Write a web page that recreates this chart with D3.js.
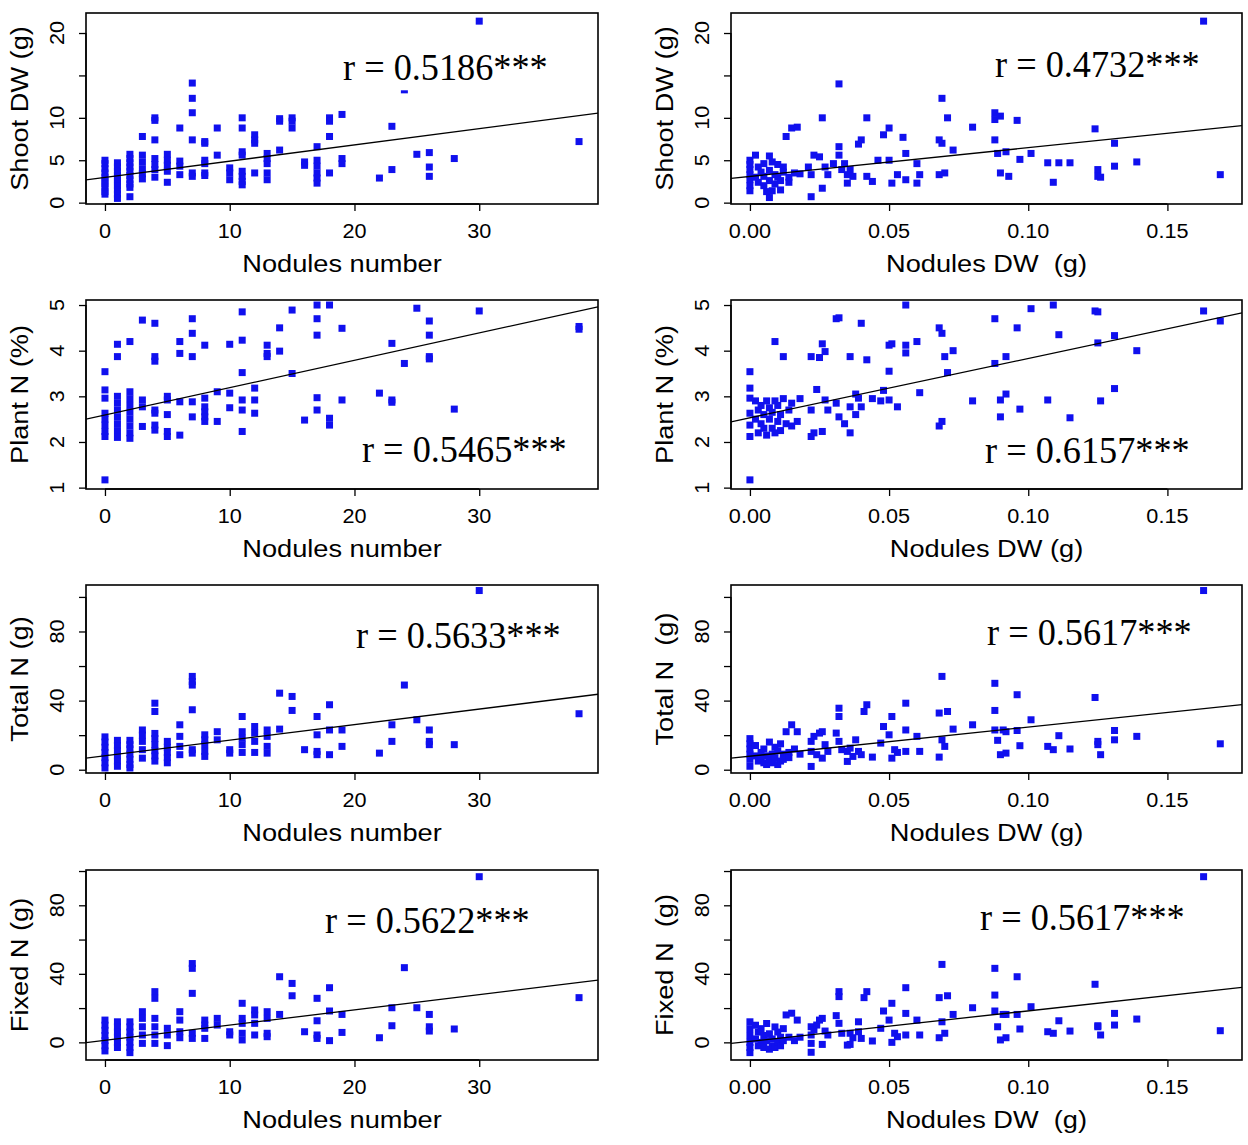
<!DOCTYPE html>
<html>
<head>
<meta charset="utf-8">
<script src="https://cdn.jsdelivr.net/npm/d3@7"></script>
<style>
  html, body { margin: 0; padding: 0; background: #fff; }
  svg text { white-space: pre; }
</style>
</head>
<body>
<svg id="chart" width="1248" height="1145"></svg>
<script>
// ---------------- DATA ----------------
// Left column: x = nodules number, values grouped by x
const shootByNum = [
  [0,[5.0,4.6,4.0,3.5,3.0,2.6,2.2,1.8,1.3,1.0]],
  [1,[4.7,4.2,3.7,3.2,2.8,2.4,2.0,1.5,1.0,0.5]],
  [2,[5.7,5.2,4.7,4.2,3.7,3.2,2.7,2.2,1.8,0.7]],
  [3,[7.8,5.6,4.8,4.0,3.4,2.8]],
  [4,[10.0,9.7,7.4,5.2,4.5,3.9,3.0]],
  [5,[5.7,5.0,4.4,3.7,2.4]],
  [6,[8.8,4.9,4.3,3.3]],
  [7,[14.1,12.3,10.6,7.4,3.5,3.1]],
  [8,[7.2,7.0,5.0,4.6,3.5,3.2]],
  [9,[8.8,5.6]],
  [10,[4.1,3.5,2.7]],
  [11,[10.0,8.8,6.0,5.6,3.7,3.1,2.5,2.1]],
  [12,[8.0,7.4,7.0,3.5]],
  [13,[5.8,5.2,4.6,3.5,2.7]],
  [14,[9.9,9.6,6.2]],
  [15,[10.0,9.6,8.8]],
  [16,[4.8,4.4]],
  [17,[6.6,5.0,4.3,3.5,2.9,2.3]],
  [18,[10.0,9.6,7.8,3.5]],
  [19,[10.4,5.2,4.6]],
  [22,[2.9]],
  [23,[9.0,3.9]],
  [24,[13.3]],
  [25,[5.7]],
  [26,[5.9,4.2,3.1]],
  [28,[5.2]],
  [30,[21.4]],
  [38,[7.2]]
];
const plantNByNum = [
  [0,[3.54,3.14,2.96,2.63,2.5,2.37,2.23,2.12,1.17]],
  [1,[4.14,3.87,3.0,2.85,2.7,2.55,2.4,2.25,2.1]],
  [2,[4.2,3.1,2.95,2.8,2.65,2.5,2.35,2.2,2.08]],
  [3,[4.67,2.92,2.77,2.34]],
  [4,[4.6,3.87,3.77,2.7,2.63,2.37,2.26]],
  [5,[3.0,2.92,2.6,2.23,2.12]],
  [6,[4.2,3.94,2.88,2.15]],
  [7,[4.7,4.38,3.87,2.88,2.55]],
  [8,[4.12,2.96,2.77,2.66,2.55,2.45]],
  [9,[3.1,2.45]],
  [10,[4.14,3.07,2.75]],
  [11,[4.85,4.23,3.52,2.92,2.7,2.23]],
  [12,[3.18,2.92,2.63]],
  [13,[4.12,3.94,3.87]],
  [14,[4.5,3.99]],
  [15,[4.89,3.5]],
  [16,[2.48]],
  [17,[5.0,4.7,4.34,2.97,2.7]],
  [18,[5.0,2.52,2.37]],
  [19,[4.49,2.92]],
  [22,[3.07]],
  [23,[4.16,2.92,2.87]],
  [24,[3.72]],
  [25,[4.93]],
  [26,[4.65,4.34,3.87,3.82]],
  [28,[2.72]],
  [30,[4.87]],
  [38,[4.53,4.47]]
];
const totalNByNum = [
  [0,[19,16,13,10,7,4,1]],
  [1,[17,14,11,8,5,2]],
  [2,[17,14.5,12,9,6,3,1]],
  [3,[23,20,16.4,11.6,6.7]],
  [4,[38.5,33.7,21,18,14.5,11,8,5]],
  [5,[16.4,13,10,7,4]],
  [6,[26,19.3,13.5,8.7]],
  [7,[54,51,49,34.7,11.6,9.6]],
  [8,[20.2,17.3,14.5,10.6,7.7]],
  [9,[22,17.3]],
  [10,[11.6,9.6]],
  [11,[30.8,22,18.3,14.5,10]],
  [12,[25,21.2,16.4,10]],
  [13,[23,19.3,13.5,9.6]],
  [14,[44.3,23.5]],
  [15,[42.4,34.3]],
  [16,[11.6]],
  [17,[30.8,20.2,10.6,8.7]],
  [18,[37.6,23,8.7]],
  [19,[23,13.5]],
  [22,[9.6]],
  [23,[26,16.4]],
  [24,[49]],
  [25,[28.9]],
  [26,[23,16.4,14.5]],
  [28,[14.5]],
  [30,[103.7]],
  [38,[32.4]]
];
const fixedNByNum = [
  [0,[13,10,7,4,1,-2,-5]],
  [1,[12,9,6,3,0,-3]],
  [2,[12,9,6,3,0,-3,-6]],
  [3,[17.9,14,9.1,4.3,-0.6]],
  [4,[29.6,25.7,14,9.1,4.3,-0.6]],
  [5,[8.2,4.3,-1.9]],
  [6,[17.9,13,6.2,2.7]],
  [7,[46,43.2,28.6,5.3,2.3]],
  [8,[13,10.1,8.2,2.3]],
  [9,[14,10.1]],
  [10,[6.2,4.3]],
  [11,[22.8,14,11.1,5.3,1.4]],
  [12,[18.9,16,11.1,4.3]],
  [13,[17.9,14,5.3,3.3]],
  [14,[38.3,16.3]],
  [15,[34.4,27.2]],
  [16,[6.2]],
  [17,[25.7,12.6,4.3,2.3]],
  [18,[31.9,18.3,1]],
  [19,[16.3,5.8]],
  [22,[2.7]],
  [23,[20.2,9.7]],
  [24,[43.6]],
  [25,[20.2]],
  [26,[16.3,9.1,6.6]],
  [28,[7.8]],
  [30,[96.7]],
  [38,[26.1]]
];

// Right column: [nodules DW, value]
const shootByDW = [
  [0,5.0],[0,4.5],[0,3.9],[0,3.3],[0,2.7],[0,2.0],[0,1.4],
  [0.002,5.6],[0.002,3.0],[0.003,4.2],[0.003,2.4],[0.004,3.6],[0.005,4.6],[0.005,3.1],[0.005,2.0],
  [0.006,1.3],[0.007,3.8],[0.007,2.6],[0.007,0.6],[0.007,5.5],[0.008,4.8],[0.008,1.4],[0.009,3.3],
  [0.009,2.2],[0.010,4.5],[0.010,3.0],[0.011,2.6],[0.011,1.5],[0.012,4.2],[0.012,3.6],[0.013,7.8],
  [0.014,3.0],[0.014,2.4],[0.015,8.8],[0.016,3.5],[0.017,8.9],[0.018,3.4],
  [0.021,4.2],[0.022,0.7],[0.022,3.3],[0.023,5.6],[0.025,5.4],[0.026,10.0],[0.026,1.7],[0.027,4.2],
  [0.028,3.3],[0.030,4.6],[0.032,6.6],[0.032,5.6],[0.032,14.0],[0.033,3.9],[0.034,4.6],[0.035,2.3],
  [0.035,3.3],[0.036,3.9],[0.037,3.1],[0.039,6.9],[0.040,7.4],[0.042,10.0],[0.042,3.1],[0.044,2.5],
  [0.046,5.0],[0.048,8.0],[0.050,8.8],[0.050,5.0],[0.051,2.3],[0.053,3.3],[0.055,7.7],[0.056,5.8],
  [0.056,2.7],[0.060,4.6],[0.060,2.3],[0.061,3.3],[0.068,7.4],[0.068,3.3],[0.069,12.3],[0.069,7.0],
  [0.070,3.5],[0.071,10.0],[0.073,6.2],[0.080,8.9],[0.088,10.6],[0.088,9.8],[0.088,7.4],[0.090,10.2],
  [0.090,3.5],[0.089,5.8],[0.092,6.0],[0.093,3.1],[0.096,9.7],[0.097,5.1],[0.101,5.8],[0.107,4.7],
  [0.109,2.4],[0.111,4.7],[0.115,4.7],[0.124,8.7],[0.125,3.9],[0.125,3.1],[0.126,3.0],[0.131,7.0],
  [0.131,4.3],[0.139,4.8],[0.163,21.4],[0.169,3.3]
];
const plantNByDW = [
  [0,3.54],[0,3.18],[0,2.96],[0,2.63],[0,2.37],[0,2.12],[0,1.17],
  [0.002,2.9],[0.002,2.5],[0.003,2.2],[0.003,2.7],[0.004,2.4],[0.004,2.8],[0.005,2.3],[0.005,2.6],
  [0.006,2.15],[0.006,2.9],[0.007,2.5],[0.007,2.75],[0.008,2.3],[0.008,2.65],[0.009,4.2],[0.009,2.2],
  [0.009,2.9],[0.010,2.45],[0.010,2.8],[0.011,2.6],[0.011,2.25],[0.012,3.87],[0.012,2.95],[0.013,2.4],
  [0.014,2.7],[0.015,2.85],[0.015,2.35],[0.017,2.45],[0.018,2.95],
  [0.022,3.87],[0.022,2.7],[0.022,2.12],[0.023,2.2],[0.024,3.15],[0.025,3.85],[0.026,4.15],[0.026,2.23],
  [0.027,3.98],[0.027,2.92],[0.028,2.7],[0.031,4.7],[0.032,4.72],[0.031,2.85],[0.032,2.55],[0.034,2.4],
  [0.036,3.87],[0.036,2.2],[0.036,2.77],[0.038,3.05],[0.038,2.6],[0.039,2.96],[0.040,4.6],[0.040,2.77],
  [0.042,3.8],[0.044,2.95],[0.047,2.9],[0.048,3.13],[0.050,4.12],[0.051,4.15],[0.050,3.55],[0.050,2.92],
  [0.053,2.77],[0.056,5.0],[0.056,4.12],[0.056,3.95],[0.060,4.2],[0.061,3.08],[0.068,4.5],[0.069,4.38],
  [0.068,2.35],[0.069,2.45],[0.070,3.87],[0.071,3.52],[0.073,4.0],[0.080,2.9],[0.088,4.7],[0.088,3.72],
  [0.090,2.92],[0.090,2.55],[0.092,3.87],[0.092,3.05],[0.096,4.5],[0.097,2.72],[0.101,4.92],[0.107,2.92],
  [0.109,5.0],[0.111,4.35],[0.115,2.53],[0.124,4.87],[0.125,4.85],[0.125,4.17],[0.126,2.9],[0.131,4.33],
  [0.131,3.17],[0.139,4.0],[0.163,4.87],[0.169,4.65]
];
const totalNByDW = [
  [0,18],[0,15],[0,12],[0,9],[0,6],[0,2],
  [0.002,14],[0.002,8],[0.003,5],[0.004,10],[0.004,7],[0.005,12],[0.005,4],[0.006,8],[0.006,3],
  [0.007,16],[0.007,6],[0.008,9],[0.008,4],[0.009,13],[0.009,7],[0.010,3],[0.010,11],[0.011,5],
  [0.011,15],[0.012,9],[0.012,6],[0.013,22],[0.014,10],[0.014,7],[0.015,26],[0.016,12],[0.017,22],[0.018,9],
  [0.022,16.4],[0.022,10.6],[0.022,1.9],[0.023,19.3],[0.024,8.7],[0.025,21.2],[0.026,22],[0.026,6.7],
  [0.027,14.5],[0.028,10.6],[0.031,21.2],[0.032,35.6],[0.032,30.8],[0.032,16.4],[0.033,11.6],[0.035,4.8],
  [0.035,10.6],[0.036,12.5],[0.037,7.7],[0.038,17.3],[0.039,10.6],[0.040,8.7],[0.041,33.7],[0.042,37.6],
  [0.044,7.3],[0.047,15.4],[0.048,25],[0.050,20.2],[0.051,30.8],[0.051,6.7],[0.052,11.6],[0.053,10],
  [0.056,38.5],[0.056,23],[0.056,10.6],[0.060,19.3],[0.061,10.6],[0.068,32.8],[0.068,7.3],[0.069,54],
  [0.069,17.3],[0.070,13.5],[0.071,33.7],[0.073,23.5],[0.080,26],[0.088,50],[0.088,34.3],[0.088,23],
  [0.089,17],[0.090,8.7],[0.091,23],[0.092,9.6],[0.092,22],[0.096,43.4],[0.096,22.7],[0.097,13.9],
  [0.101,28.9],[0.107,13.5],[0.109,11.6],[0.111,19.7],[0.115,12],[0.124,41.8],[0.125,16.4],[0.125,14.5],
  [0.126,8.7],[0.131,22.7],[0.131,17.3],[0.139,19.3],[0.163,103.7],[0.169,15]
];
const fixedNByDW = [
  [0,12],[0,8],[0,4],[0,0],[0,-3],[0,-6],
  [0.002,10],[0.002,2],[0.003,6],[0.003,-2],[0.004,8],[0.004,0],[0.005,4],[0.005,-3],[0.006,11],
  [0.006,1],[0.007,-4],[0.007,5],[0.008,2],[0.008,-2],[0.009,9],[0.009,-3],[0.010,6],[0.010,0],
  [0.011,3],[0.011,-2],[0.012,8],[0.012,1],[0.013,16],[0.014,3],[0.015,17],[0.016,1],[0.017,13],[0.018,3],
  [0.022,9.1],[0.022,4.3],[0.022,-5.8],[0.022,-0.6],[0.023,7.2],[0.024,10.1],[0.025,13],[0.026,14],
  [0.026,-1.2],[0.027,6.6],[0.028,4.3],[0.031,15.6],[0.032,29.6],[0.032,26.7],[0.032,11.1],[0.033,5.3],
  [0.035,-1.6],[0.036,-1.2],[0.036,5.3],[0.037,2.7],[0.039,12],[0.039,6.2],[0.040,2.3],[0.041,26.1],
  [0.042,29.6],[0.044,0.8],[0.047,8.2],[0.048,18.3],[0.050,13],[0.051,22.8],[0.051,0],[0.052,5.3],
  [0.053,3.3],[0.056,31.9],[0.056,16.9],[0.056,4.3],[0.060,13],[0.061,4.3],[0.068,26.1],[0.068,2.7],
  [0.069,45.5],[0.069,12],[0.070,5.3],[0.071,27.2],[0.073,16.3],[0.080,20.2],[0.088,43.2],[0.088,27.6],
  [0.088,18.3],[0.089,9.1],[0.090,1.4],[0.091,16.3],[0.092,2.7],[0.092,16.3],[0.096,38.3],[0.096,16.3],
  [0.097,7.8],[0.101,20.8],[0.107,6.2],[0.109,5.3],[0.111,12.6],[0.115,6.6],[0.124,33.9],[0.125,9.7],
  [0.125,9.1],[0.126,4.3],[0.131,16.9],[0.131,10.1],[0.139,13.6],[0.163,96.7],[0.169,6.8]
];

// Regression lines [intercept, slope]
const fitShootNum  = [2.97, 0.192];
const fitShootDW   = [3.09, 33.9];
const fitPlantNNum = [2.59, 0.060];
const fitPlantNDW  = [2.53, 13.0];
const fitTotalNNum = [8.1, 0.90];
const fitTotalNDW  = [7.8, 169];
const fitFixedNNum = [1.16, 0.89];
const fitFixedNDW  = [0.57, 178];

// Correlation labels
const rLabels = ["r = 0.5186***","r = 0.4732***","r = 0.5465***","r = 0.6157***",
                 "r = 0.5633***","r = 0.5617***","r = 0.5622***","r = 0.5617***"];

// Axis ticks and labels
const numTicks = [0, 10, 20, 30];
const numTickLabels = ["0", "10", "20", "30"];
const dwTicks = [0, 0.05, 0.10, 0.15];
const dwTickLabels = ["0.00", "0.05", "0.10", "0.15"];
const shootTicks = [0, 5, 10, 15, 20];
const shootTickLabels = ["0", "5", "10", "", "20"];
const plantNTicks = [1, 2, 3, 4, 5];
const plantNTickLabels = ["1", "2", "3", "4", "5"];
const nTicks = [0, 20, 40, 60, 80, 100];
const nTickLabels = ["0", "", "40", "", "80", ""];

const xTitlesLeft = ["Nodules number","Nodules number","Nodules number","Nodules number"];
const xTitlesRight = ["Nodules DW\u00A0\u00A0(g)","Nodules DW (g)","Nodules DW (g)","Nodules DW\u00A0\u00A0(g)"];
const yTitlesLeft = ["Shoot DW (g)","Plant N (%)","Total N (g)","Fixed N (g)"];
const yTitlesRight = ["Shoot DW (g)","Plant N (%)","Total N\u00A0\u00A0(g)","Fixed N\u00A0\u00A0(g)"];

// ---------------- LAYOUT ----------------
const flat = g => g.flatMap(([x, ys]) => ys.map(y => [x, y]));

const rows = [
  { top: 13,  bottom: 204,  yDom: [-0.16, 22.36], ticks: shootTicks,  labels: shootTickLabels },
  { top: 300, bottom: 489,  yDom: [0.97, 5.11],   ticks: plantNTicks, labels: plantNTickLabels },
  { top: 585, bottom: 773,  yDom: [-1.9, 106.9],  ticks: nTicks,      labels: nTickLabels },
  { top: 870, bottom: 1060, yDom: [-10.3, 100.6], ticks: nTicks,      labels: nTickLabels }
];
const cols = [
  { left: 86,  right: 598,  xDom: [-1.52, 39.52],   ticks: numTicks, labels: numTickLabels },
  { left: 731, right: 1242, xDom: [-0.0068, 0.1768], ticks: dwTicks, labels: dwTickLabels }
];

const panels = [
  { r: 0, c: 0, pts: flat(shootByNum),  fit: fitShootNum,  rl: rLabels[0], rx: 343, ry: 80,  xt: xTitlesLeft[0],  yt: yTitlesLeft[0] },
  { r: 0, c: 1, pts: shootByDW,         fit: fitShootDW,   rl: rLabels[1], rx: 995, ry: 77,  xt: xTitlesRight[0], yt: yTitlesRight[0] },
  { r: 1, c: 0, pts: flat(plantNByNum), fit: fitPlantNNum, rl: rLabels[2], rx: 362, ry: 462, xt: xTitlesLeft[1],  yt: yTitlesLeft[1] },
  { r: 1, c: 1, pts: plantNByDW,        fit: fitPlantNDW,  rl: rLabels[3], rx: 985, ry: 463, xt: xTitlesRight[1], yt: yTitlesRight[1] },
  { r: 2, c: 0, pts: flat(totalNByNum), fit: fitTotalNNum, rl: rLabels[4], rx: 356, ry: 648, xt: xTitlesLeft[2],  yt: yTitlesLeft[2] },
  { r: 2, c: 1, pts: totalNByDW,        fit: fitTotalNDW,  rl: rLabels[5], rx: 987, ry: 645, xt: xTitlesRight[2], yt: yTitlesRight[2] },
  { r: 3, c: 0, pts: flat(fixedNByNum), fit: fitFixedNNum, rl: rLabels[6], rx: 325, ry: 933, xt: xTitlesLeft[3],  yt: yTitlesLeft[3] },
  { r: 3, c: 1, pts: fixedNByDW,        fit: fitFixedNDW,  rl: rLabels[7], rx: 980, ry: 930, xt: xTitlesRight[3], yt: yTitlesRight[3] }
];

const svg = d3.select("#chart");
const SANS = "'Liberation Sans', Arial, sans-serif";
const SERIF = "'Liberation Serif', 'Times New Roman', serif";
const STRETCH = 1.11;
const BLUE = "#1010ee";
const MS = 7;

function stretchedText(parent, x, y, rot, str, size, anchor) {
  const g = parent.append("g").attr("transform", `translate(${x},${y}) rotate(${rot})`);
  g.append("text")
    .attr("transform", `scale(${STRETCH},1)`)
    .attr("text-anchor", anchor)
    .attr("font-family", SANS)
    .attr("font-size", size)
    .attr("fill", "#000")
    .text(str);
}

panels.forEach((p, i) => {
  const row = rows[p.r], col = cols[p.c];
  const x = d3.scaleLinear().domain(col.xDom).range([col.left, col.right]);
  const y = d3.scaleLinear().domain(row.yDom).range([row.bottom, row.top]);
  const g = svg.append("g");

  const cid = "clip" + i;
  svg.append("clipPath").attr("id", cid).append("rect")
    .attr("x", col.left).attr("y", row.top)
    .attr("width", col.right - col.left).attr("height", row.bottom - row.top);

  // points
  g.append("g").selectAll("rect").data(p.pts).join("rect")
    .attr("x", d => x(d[0]) - MS / 2)
    .attr("y", d => y(d[1]) - MS / 2)
    .attr("width", MS).attr("height", MS)
    .attr("fill", BLUE);

  // regression line
  const xs = x.domain();
  g.append("line")
    .attr("clip-path", `url(#${cid})`)
    .attr("x1", x(xs[0])).attr("y1", y(p.fit[0] + p.fit[1] * xs[0]))
    .attr("x2", x(xs[1])).attr("y2", y(p.fit[0] + p.fit[1] * xs[1]))
    .attr("stroke", "#000").attr("stroke-width", 1.3);

  // correlation label with white backing
  const lab = g.append("g");
  const bg = lab.append("rect").attr("fill", "#fff");
  const t = lab.append("text")
    .attr("x", p.rx).attr("y", p.ry)
    .attr("font-family", SERIF)
    .attr("font-size", 39)
    .attr("fill", "#000")
    .attr("transform", `translate(${p.rx},0) scale(0.93,1) translate(${-p.rx},0)`)
    .text(p.rl);
  const bb = t.node().getBBox();
  bg.attr("x", p.rx - 2).attr("y", bb.y + 6)
    .attr("width", bb.width * 0.93 + 4).attr("height", bb.height - 4);

  // box
  g.append("rect")
    .attr("x", col.left).attr("y", row.top)
    .attr("width", col.right - col.left).attr("height", row.bottom - row.top)
    .attr("fill", "none").attr("stroke", "#000").attr("stroke-width", 1.6);

  // x axis
  const xAxis = d3.axisBottom(x).tickValues(col.ticks).tickSize(7).tickFormat("");
  const xa = g.append("g").attr("transform", `translate(0,${row.bottom})`).call(xAxis);
  xa.select(".domain").attr("d", `M${x(col.ticks[0])},0H${x(col.ticks[col.ticks.length - 1])}`)
    .attr("stroke-width", 1.3);
  xa.selectAll(".tick line").attr("stroke-width", 1.3);
  col.ticks.forEach((tv, k) => {
    stretchedText(g, x(tv), row.bottom + 34, 0, col.labels[k], 19.5, "middle");
  });

  // y axis
  const yAxis = d3.axisLeft(y).tickValues(row.ticks).tickSize(7).tickFormat("");
  const ya = g.append("g").attr("transform", `translate(${col.left},0)`).call(yAxis);
  ya.select(".domain").attr("d", `M0,${y(row.ticks[0])}V${y(row.ticks[row.ticks.length - 1])}`)
    .attr("stroke-width", 1.3);
  ya.selectAll(".tick line").attr("stroke-width", 1.3);
  row.ticks.forEach((tv, k) => {
    if (row.labels[k]) stretchedText(g, col.left - 22, y(tv), -90, row.labels[k], 19.5, "middle");
  });

  // titles
  stretchedText(g, (col.left + col.right) / 2, row.bottom + 68, 0, p.xt, 24.5, "middle");
  stretchedText(g, col.left - 58, (row.top + row.bottom) / 2, -90, p.yt, 24.5, "middle");
});
</script>
</body>
</html>
